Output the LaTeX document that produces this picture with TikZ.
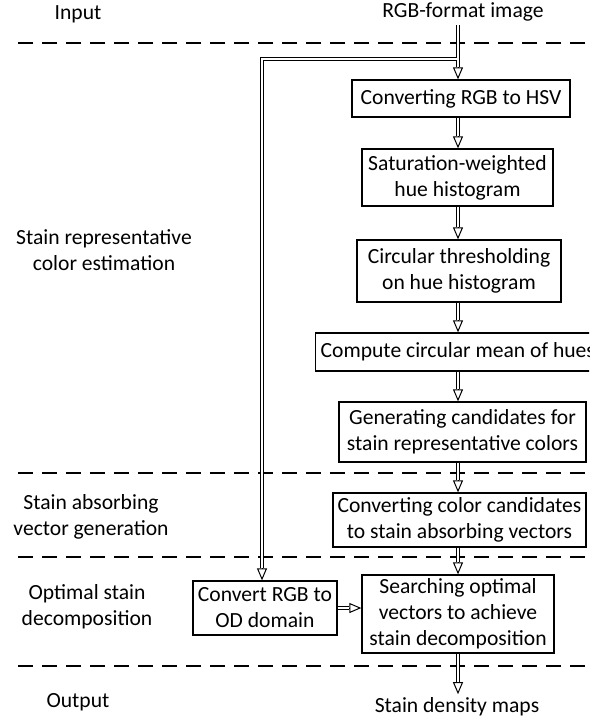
\documentclass[tikz,border=0pt]{standalone}
\usepackage{fontspec}
\setmainfont{Carlito}
\usetikzlibrary{arrows.meta,calc}

\tikzset{
  box/.style={draw, line width=1.3pt, align=center, inner sep=0pt},
  stage/.style={align=center},
  sep/.style={line width=1.3pt, dash pattern=on 15pt off 9pt},
  dblline/.style={double, double distance=2.6pt, line width=1pt},
  hollowtip/.style={line width=1pt, -{Triangle[open, length=12pt, width=10pt]}}
}
\newcommand{\dblarrow}[2]{%
  \draw[dblline, shorten >=12pt] #1 -- #2;
  \draw[hollowtip] ($#2!12pt!#1$) -- #2;
}

\begin{document}
\begin{tikzpicture}[x=1pt, y=-1pt, font=\fontsize{21.6}{26}\selectfont]
   \path[use as bounding box, clip] (0,0) rectangle (589,719);
   % separators between stages
   \draw[sep] (18,43) -- (589,43);
   \draw[sep] (18,473) -- (589,473);
   \draw[sep] (18,557) -- (589,557);
   \draw[sep] (18,666) -- (589,666);
   % stage names
   \node[stage] (input) at (78,14) {Input};
   \node[stage] (est) at (104,250) {Stain representative\\color estimation};
   \node[stage] (gen) at (91,517) {Stain absorbing\\vector generation};
   \node[stage] (dec) at (87,607) {Optimal stain\\decomposition};
   \node[stage] (output) at (78,702) {Output};
   % flow
   \node (rgb) at (463,12) {RGB-format image};
   \node[box, minimum width=218pt, minimum height=37pt] (hsv) at (461,98.5) {Converting RGB to HSV};
   \node[box, minimum width=191pt, minimum height=57pt] (hist) at (457.5,177.5) {Saturation-weighted\\hue histogram};
   \node[box, minimum width=204pt, minimum height=62pt] (thr) at (459,271) {Circular thresholding\\on hue histogram};
   \node[box, anchor=west, inner xsep=5pt, minimum height=38pt] (mean) at (315,352) {Compute circular mean of hues};
   \node[box, minimum width=247pt, minimum height=60pt] (cand) at (462.5,432) {Generating candidates for\\stain representative colors};
   \node[box, minimum width=253pt, minimum height=54pt] (vec) at (459.5,520) {Converting color candidates\\to stain absorbing vectors};
   \node[box, minimum width=144pt, minimum height=54pt] (od) at (265,608) {Convert RGB to\\OD domain};
   \node[box, minimum width=192pt, minimum height=78pt] (srch) at (458,614) {Searching optimal\\vectors to achieve\\stain decomposition};
   \node (maps) at (457,707) {Stain density maps};
   \coordinate (col) at (458,0);
   \coordinate (lcol) at (262,0);
   \coordinate (split) at (458,59);
   \coordinate (branch) at (458,60.3);
   % connectors
   \draw[dblline] (col |- rgb.south) -- (split) -- (split -| lcol) -- ($(lcol |- od.north)+(0,-12)$);
   \draw[hollowtip] ($(lcol |- od.north)+(0,-12)$) -- (lcol |- od.north);
   \dblarrow{(branch)}{(col |- hsv.north)}
   \dblarrow{(col |- hsv.south)}{(col |- hist.north)}
   \dblarrow{(col |- hist.south)}{(col |- thr.north)}
   \dblarrow{(col |- thr.south)}{(col |- mean.north)}
   \dblarrow{(col |- mean.south)}{(col |- cand.north)}
   \dblarrow{(col |- cand.south)}{(col |- vec.north)}
   \dblarrow{(col |- vec.south)}{(col |- srch.north)}
   \dblarrow{(col |- srch.south)}{(col |- maps.north)}
   \dblarrow{(od.east)}{(od.east -| srch.west)}
\end{tikzpicture}
\end{document}
